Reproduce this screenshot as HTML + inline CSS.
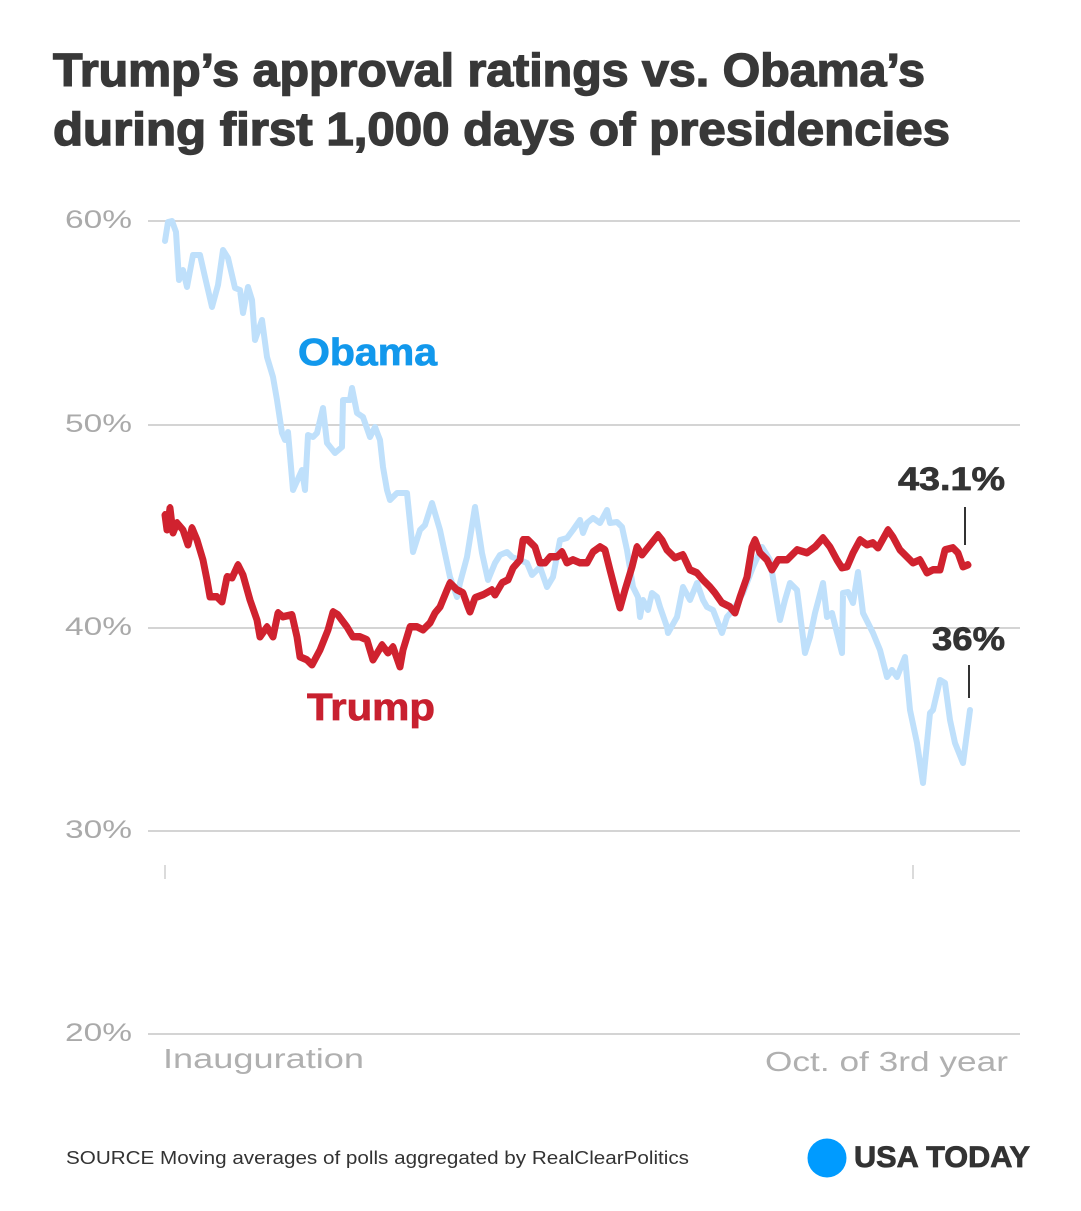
<!DOCTYPE html>
<html><head><meta charset="utf-8"><style>
html,body{margin:0;padding:0;background:#fff;}
svg{display:block;}
text{font-family:"Liberation Sans",sans-serif;}
</style></head><body>
<svg width="1081" height="1211" viewBox="0 0 1081 1211" xmlns="http://www.w3.org/2000/svg">
<rect width="1081" height="1211" fill="#fff"/>
<text x="53" y="86" font-size="46" font-weight="bold" fill="#383838" stroke="#383838" stroke-width="1.4" textLength="872" lengthAdjust="spacingAndGlyphs">Trump’s approval ratings vs. Obama’s</text>
<text x="53" y="145" font-size="46" font-weight="bold" fill="#383838" stroke="#383838" stroke-width="1.4" textLength="897" lengthAdjust="spacingAndGlyphs">during first 1,000 days of presidencies</text>

<g stroke="#d4d4d4" stroke-width="2">
<line x1="148" y1="221" x2="1020" y2="221"/>
<line x1="148" y1="425" x2="1020" y2="425"/>
<line x1="148" y1="628" x2="1020" y2="628"/>
<line x1="148" y1="831" x2="1020" y2="831"/>
<line x1="148" y1="1034" x2="1020" y2="1034"/>
</g>
<g stroke="#cfcfcf" stroke-width="1.5">
<line x1="165" y1="865" x2="165" y2="879"/>
<line x1="913" y1="865" x2="913" y2="879"/>
</g>
<g font-size="25" fill="#aaaaaa">
<text x="65" y="228" textLength="67" lengthAdjust="spacingAndGlyphs">60%</text>
<text x="65" y="432" textLength="67" lengthAdjust="spacingAndGlyphs">50%</text>
<text x="65" y="635" textLength="67" lengthAdjust="spacingAndGlyphs">40%</text>
<text x="65" y="838" textLength="67" lengthAdjust="spacingAndGlyphs">30%</text>
<text x="65" y="1041" textLength="67" lengthAdjust="spacingAndGlyphs">20%</text>
</g>
<text x="163" y="1068" font-size="28" fill="#b0b0b0" textLength="201" lengthAdjust="spacingAndGlyphs">Inauguration</text>
<text x="765" y="1071" font-size="28" fill="#b0b0b0" textLength="243" lengthAdjust="spacingAndGlyphs">Oct. of 3rd year</text>

<polyline fill="none" stroke="#bfe0fb" stroke-width="6" stroke-linejoin="round" stroke-linecap="round" points="165,241 168,222 172,221 176,232 179,280 183,270 187,287 193,255 200,255 205,277 212,307 218,285 223,250 228,258 235,288 240,290 243,313 248,287 252,300 255,340 262,320 267,357 273,377 277,400 282,433 285,440 288,432 293,490 302,470 305,490 308,435 313,437 317,433 323,408 327,443 335,453 342,447 343,400 350,400 352,388 357,413 363,417 370,437 375,427 380,440 383,467 387,490 390,500 397,493 407,493 413,552 420,530 425,525 432,503 440,530 450,577 457,597 460,583 467,557 475,507 482,553 488,580 495,563 500,555 507,552 512,557 520,560 527,563 532,575 540,567 547,587 553,577 560,540 567,538 573,530 580,520 583,533 587,523 593,518 600,523 607,510 610,523 617,522 622,527 627,550 633,587 638,597 640,617 643,600 648,610 652,593 657,597 660,607 667,627 668,633 677,617 683,587 690,600 697,583 703,600 707,607 713,610 722,633 727,617 733,610 743,593 753,567 762,547 770,560 780,620 785,600 790,583 797,590 805,653 810,637 815,613 823,583 827,617 832,613 842,653 843,593 848,592 853,603 858,572 863,613 873,633 880,650 887,677 892,670 897,677 905,657 910,710 917,743 923,783 930,713 933,710 940,680 945,683 950,720 955,743 963,763 970,710"/>

<g fill="none" stroke="#d0222f" stroke-linejoin="round" stroke-linecap="round">
<polyline stroke-width="7" points="165,515 167,530 170,508 173,533 177,523 183,530 188,545 192,528 197,540 203,560 207,580 210,597 217,597 222,602 227,577 232,578 238,565 243,575 250,600 257,620 260,637 267,627 273,637 278,613 283,617 292,615 297,637 300,657 307,660 312,665 320,650 328,630 333,612 338,615 347,627 353,637 360,637 367,640 373,660 382,645 388,653 393,647 400,667 403,650 410,627 417,627 423,630 430,623 435,613 440,607 447,590 450,583 457,590 463,593 468,607 470,612 475,598 483,595 492,590 495,595 502,583 508,580 513,568 520,560 523,540 528,540 535,547 540,563 545,563 550,557 557,557 562,552 567,563 573,560 580,563 587,563 593,552 600,547 605,550 610,570 617,597 620,608 625,590 632,567 637,547 642,555 650,545 658,535 662,540 667,550 675,558 683,555 690,570 697,573 703,580 710,587 715,593 722,603 730,607 735,613 740,597 747,577 752,547 755,540 760,553 767,560 772,570 778,560 787,560 797,550 807,553 815,547 823,538 830,547 837,560 842,568 847,567 853,553 860,540 867,545 873,543 878,548 888,530 893,537 900,550 907,557 913,563 920,560 927,573 933,570 940,570 945,550 953,548 958,553 963,567 968,565"/>
<polyline stroke-width="5" transform="translate(0,-1.5)" points="165,515 167,530 170,508 173,533 177,523 183,530 188,545 192,528 197,540 203,560 207,580 210,597 217,597 222,602 227,577 232,578 238,565 243,575 250,600 257,620 260,637 267,627 273,637 278,613 283,617 292,615 297,637 300,657 307,660 312,665 320,650 328,630 333,612 338,615 347,627 353,637 360,637 367,640 373,660 382,645 388,653 393,647 400,667 403,650 410,627 417,627 423,630 430,623 435,613 440,607 447,590 450,583 457,590 463,593 468,607 470,612 475,598 483,595 492,590 495,595 502,583 508,580 513,568 520,560 523,540 528,540 535,547 540,563 545,563 550,557 557,557 562,552 567,563 573,560 580,563 587,563 593,552 600,547 605,550 610,570 617,597 620,608 625,590 632,567 637,547 642,555 650,545 658,535 662,540 667,550 675,558 683,555 690,570 697,573 703,580 710,587 715,593 722,603 730,607 735,613 740,597 747,577 752,547 755,540 760,553 767,560 772,570 778,560 787,560 797,550 807,553 815,547 823,538 830,547 837,560 842,568 847,567 853,553 860,540 867,545 873,543 878,548 888,530 893,537 900,550 907,557 913,563 920,560 927,573 933,570 940,570 945,550 953,548 958,553 963,567 968,565"/>
</g>

<text x="298" y="365" font-size="38" font-weight="bold" fill="#1298ec" stroke="#1298ec" stroke-width="0.8" textLength="139" lengthAdjust="spacingAndGlyphs">Obama</text>
<text x="307" y="720" font-size="38" font-weight="bold" fill="#c8202f" stroke="#c8202f" stroke-width="0.8" textLength="128" lengthAdjust="spacingAndGlyphs">Trump</text>

<text x="898" y="490" font-size="32" font-weight="bold" fill="#333" stroke="#333" stroke-width="0.7" textLength="107" lengthAdjust="spacingAndGlyphs">43.1%</text>
<line x1="965" y1="507" x2="965" y2="545" stroke="#333" stroke-width="2"/>
<text x="932" y="650" font-size="32" font-weight="bold" fill="#333" stroke="#333" stroke-width="0.7" textLength="73" lengthAdjust="spacingAndGlyphs">36%</text>
<line x1="969" y1="665" x2="969" y2="698" stroke="#333" stroke-width="2"/>

<text x="66" y="1164" font-size="18" fill="#333" textLength="623" lengthAdjust="spacingAndGlyphs">SOURCE Moving averages of polls aggregated by RealClearPolitics</text>
<circle cx="827" cy="1158" r="19.5" fill="#009bff"/>
<text x="854" y="1167" font-size="30" font-weight="bold" fill="#333" stroke="#333" stroke-width="0.8" textLength="176" lengthAdjust="spacingAndGlyphs">USA TODAY</text>
</svg>
</body></html>
